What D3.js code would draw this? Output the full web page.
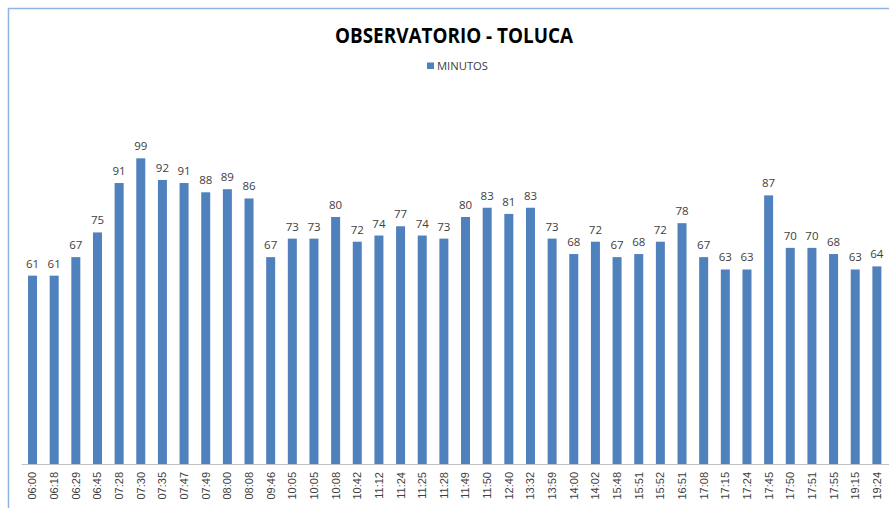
<!DOCTYPE html>
<html>
<head>
<meta charset="utf-8">
<script src="https://cdn.jsdelivr.net/npm/d3@7"></script>
<style>
html,body{margin:0;padding:0;background:#fff;}
svg{display:block;}
</style>
</head>
<body>
<script>
const categories = ["06:00","06:18","06:29","06:45","07:28","07:30","07:35","07:47","07:49","08:00","08:08","09:46","10:05","10:05","10:08","10:42","11:12","11:24","11:25","11:28","11:49","11:50","12:40","13:32","13:59","14:00","14:02","15:48","15:51","15:52","16:51","17:08","17:15","17:24","17:45","17:50","17:51","17:55","19:15","19:24"];
const minutos = [61,61,67,75,91,99,92,91,88,89,86,67,73,73,80,72,74,77,74,73,80,83,81,83,73,68,72,67,68,72,78,67,63,63,87,70,70,68,63,64];
const title = "OBSERVATORIO - TOLUCA";
const seriesName = "MINUTOS";

const W = 889, H = 508;
const svg = d3.select("body").append("svg").attr("width", W).attr("height", H);

// chart border (clipped at right/bottom)
svg.append("path")
  .attr("d", `M8.5,${H+5} L8.5,8.5 L${W+5},8.5`)
  .attr("fill", "none").attr("stroke", "#8DB4E2").attr("stroke-width", 1.5);

const idx = categories.map((d, i) => i);
const x = d3.scaleBand().domain(idx).range([21.7, 887.7]).padding(0);
const y = d3.scaleLinear().domain([0, 120]).range([464, 93.5]);
const bw = 9;

// bars
svg.append("g").selectAll("rect").data(minutos).join("rect")
  .attr("x", (d, i) => x(i) + x.bandwidth() / 2 - bw / 2)
  .attr("y", d => y(d))
  .attr("width", bw)
  .attr("height", d => y(0) - y(d))
  .attr("fill", "#4F81BD");

// axis
const xAxis = d3.axisBottom(x).tickSize(0).tickFormat(i => categories[i]);
const gx = svg.append("g").attr("transform", `translate(0,${y(0)})`).call(xAxis);
gx.select(".domain").attr("stroke", "#BFBFBF").attr("stroke-width", 1)
  .attr("d", `M21.7,0.5H${W + 5}`);
gx.selectAll("text")
  .attr("font-family", "'Liberation Sans', Arial, sans-serif")
  .attr("font-size", 11)
  .attr("fill", "#404040")
  .attr("text-anchor", "end")
  .attr("transform", "rotate(-90)")
  .attr("x", -8)
  .attr("y", 0)
  .attr("dy", "0.36em");

// data labels
svg.append("g").selectAll("text").data(minutos).join("text")
  .attr("x", (d, i) => x(i) + x.bandwidth() / 2)
  .attr("y", d => y(d) - 8)
  .attr("text-anchor", "middle")
  .attr("font-family", "'Open Sans', sans-serif")
  .attr("font-size", 11.5)
  .attr("fill", "#404040")
  .text(d => d);

// title
svg.append("text")
  .attr("x", 454).attr("y", 43)
  .attr("text-anchor", "middle")
  .attr("font-family", "'Open Sans', sans-serif")
  .attr("font-weight", "bold")
  .attr("font-size", 20.5)
  .attr("fill", "#000")
  .attr("textLength", 238)
  .attr("lengthAdjust", "spacingAndGlyphs")
  .text(title);

// legend
svg.append("rect").attr("x", 427).attr("y", 62.5).attr("width", 7).attr("height", 6.5).attr("fill", "#4F81BD");
svg.append("text")
  .attr("x", 437).attr("y", 70)
  .attr("font-family", "'Open Sans', sans-serif")
  .attr("font-size", 10.5)
  .attr("fill", "#404040")
  .attr("textLength", 51)
  .attr("lengthAdjust", "spacingAndGlyphs")
  .text(seriesName);
</script>
</body>
</html>
